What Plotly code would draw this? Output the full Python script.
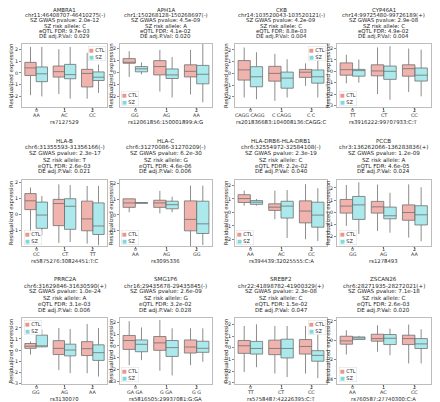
import plotly.graph_objects as go

GENES = ["AMBRA1", "APH1A", "CKB", "CYP46A1", "HLA-B", "HLA-C", "HLA-DRB6-HLA-DRB1", "PCCB",
         "PRRC2A", "SMG1P6", "SREBF2", "ZSCAN26"]
LOCI = ["chr11:46408707-46410275(-)", "chr1:150268128-150268697(-)", "chr14:103520043-103520121(-)",
        "chr14:99725480-99726189(+)", "chr6:31355593-31356166(-)", "chr6:31270086-31270209(-)",
        "chr6:32554972-32584108(-)", "chr3:136262066-136283836(+)", "chr6:31629846-31630590(+)",
        "chr16:29435678-29435845(-)", "chr22:41898782-41900329(+)", "chr6:28271935-28272021(+)"]
GWAS_P = ["2.0e-12", "4.5e-09", "4.2e-09", "2.9e-08", "2.3e-17", "6.2e-30", "2.3e-19", "1.2e-09",
          "1.0e-24", "2.6e-09", "2.3e-08", "7.1e-18"]
RISK = ["C", "A", "C", "C", "T", "G", "C", "A", "A", "G", "C", "C"]
EQTL_FDR = ["9.7e-03", "4.1e-02", "8.8e-03", "4.9e-02", "2.6e-03", "4.6e-06", "2.2e-02", "4.6e-05",
            "3.1e-03", "3.2e-02", "1.5e-02", "2.6e-03"]
DE_P = ["0.029", "0.020", "0.004", "0.004", "0.021", "0.006", "0.040", "0.024", "0.006", "0.028",
        "0.047", "0.020"]
SNPS = ["rs7127529", "rs12061856:150001899:A:G", "rs201836683:104008136:CAGG:C", "rs3916222:99707933:C:T",
        "rs5875276:30824451:T:C", "rs3095336", "rs394439:32025555:C:A", "rs1278493", "rs3130070",
        "rs5816505:29937081:G:GA", "rs5758487:42226395:C:T", "rs760587:27740300:C:A"]
GENOTYPES = [["AA", "AC", "CC"], ["GG", "AG", "AA"], ["CAGG CAGG", "C CAGG", "C C"], ["TT", "CT", "CC"],
             ["CC", "CT", "TT"], ["AA", "AG", "GG"], ["AA", "AC", "CC"], ["GG", "AG", "AA"],
             ["GG", "AG", "AA"], ["GA GA", "G GA", "G G"], ["TT", "CT", "CC"], ["AA", "AC", "CC"]]
DOSAGE = [0, 1, 2]
GROUPS = ["CTL", "SZ"]
Y_TITLE = "Residualized expression"

CTL_Q3 = [[0.89, 0.58, 0.3], [1.17, 1.0, 0.65], [1.09, 0.6, 0.34], [0.74, 0.57, 0.57],
          [1.32, 0.96, 0.85], [1.02, 0.93, 0.89], [1.32, 0.64, 0.86], [1.05, 0.89, 0.6],
          [0.59, 0.85, 0.76], [0.89, 0.8, 0.51], [0.62, 0.65, 0.7], [0.41, 0.62, 0.52]]
CTL_MED = [[0.42, 0.1, -0.05], [0.82, 0.5, 0.1], [0.3, 0.0, 0.1], [0.14, 0.03, 0.23],
           [0.87, 0.7, -0.26], [0.76, 0.76, -0.28], [1.03, 0.39, 0.1], [0.5, 0.44, -0.03],
           [0.35, 0.15, 0.12], [0.46, 0.26, -0.09], [0.17, -0.06, 0.11], [-0.07, 0.17, 0.17]]
CTL_Q1 = [[-0.22, -0.36, -1.2], [0.78, -0.2, -0.37], [-0.57, -0.66, -0.34], [-0.34, -0.4, -0.43],
          [0.32, -0.68, -1.0], [0.48, 0.48, -1.0], [0.74, 0.15, -0.78], [-0.08, -0.08, -0.67],
          [0.15, -0.41, -0.5], [-0.29, -0.37, -0.6], [-0.48, -0.59, -0.54], [-0.41, -0.1, -0.45]]
CTL_HI = [[2.2, 2.0, 1.7], [1.8, 1.9, 1.9], [2.2, 1.66, 0.86], [1.46, 2.1, 2.0],
          [1.7, 1.9, 1.8], [1.02, 1.52, 1.85], [1.62, 1.62, 2.1], [2.25, 2.28, 2.3],
          [0.76, 2.0, 2.35], [2.1, 2.2, 1.5], [1.86, 1.86, 1.86], [1.03, 1.55, 1.62]]
CTL_LO = [[-1.9, -1.8, -2.2], [-0.37, -1.6, -1.85], [-2.05, -2.34, -1.06], [-1.06, -2.0, -1.83],
          [-1.2, -1.75, -1.8], [0.17, 0.1, -1.96], [0.5, -0.5, -2.0], [-1.14, -1.55, -2.1],
          [-0.41, -1.82, -2.1], [-1.63, -2.1, -1.63], [-2.08, -2.2, -2.2], [-1.48, -1.2, -2.4]]

SZ_Q3 = [[0.5, 0.72, 0.08], [0.5, 0.3, 0.6], [0.57, 0.11, 0.29], [0.17, 0.46, 0.29],
         [0.79, 1.0, 0.74], [0.78, 0.87, 0.87], [0.88, 0.83, 0.76], [1.3, 0.42, 0.53],
         [1.35, 0.53, 0.47], [0.51, 0.46, 0.4], [0.54, 0.73, -0.25], [0.34, 0.59, 0.17]]
SZ_MED = [[-0.08, -0.15, -0.37], [0.31, -0.2, -0.15], [-0.29, -0.4, -0.29], [0.06, 0.0, -0.34],
          [-0.02, 0.53, -0.7], [0.76, 0.65, -0.56], [0.76, 0.47, -0.2], [0.6, -0.3, -0.22],
          [0.35, 0.0, -0.24], [0.14, -0.14, -0.2], [-0.06, -0.06, -0.65], [0.24, 0.2, -0.38]]
SZ_Q1 = [[-0.75, -0.5, -0.65], [0.06, -0.5, -0.95], [-1.14, -1.26, -0.83], [-0.43, -0.71, -0.86],
         [-0.85, -0.91, -1.23], [0.74, 0.39, -1.17], [0.6, -0.42, -1.1], [-0.6, -0.55, -1.06],
         [0.29, -0.53, -0.94], [-0.49, -0.89, -0.54], [-0.54, -0.87, -1.15], [0.07, -0.45, -0.86]]
SZ_HI = [[2.2, 2.2, 0.7], [0.85, 1.3, 2.4], [1.8, 1.2, 1.94], [1.03, 2.2, 1.9],
         [1.17, 1.85, 1.8], [0.78, 1.15, 1.85], [1.0, 1.67, 1.8], [2.47, 1.6, 2.05],
         [1.85, 1.9, 2.0], [1.57, 1.5, 1.5], [2.0, 1.86, 1.15], [0.45, 1.2, 1.13]]
SZ_LO = [[-2.0, -2.2, -1.7], [-0.15, -2.1, -2.5], [-2.2, -2.05, -2.05], [-1.0, -2.5, -2.2],
         [-1.28, -1.7, -1.9], [0.74, 0.17, -1.9], [0.51, -1.9, -2.13], [-1.8, -1.7, -2.4],
         [0.24, -2.1, -2.4], [-1.2, -2.5, -1.34], [-1.66, -2.5, -2.6], [0.07, -1.55, -2.4]]

# ---- layout / style (not data) ----
# The page body adds an 8 px margin, so the figure is drawn 8 px in from the window's
# top-left corner; all positions below are window pixels converted to figure coordinates.
WIN_W, WIN_H, OFF = 440, 402, 8
W, H = WIN_W - OFF, WIN_H - OFF
COL_L = [22, 120, 235, 337]
COL_R = [107, 212, 327, 430.5]
YTITLE_X = [11.6, 111.5, 226.5, 328.5]
ROW_T = [44, 179.5, 318]
ROW_B = [107, 246, 383.7]
TITLE_GAP = [7.3, 7.6, 7.6]
TITLE_STEP = [5.4, 6.2, 6.2]
TITLE_SIZE = [5.4, 5.6, 5.6]
XLAB_DY = [3.5, 8.6, 14.9]
YRANGE = [[-2.9, 2.45], [-2.9, 2.4], [-2.86, 2.5], [-3.14, 2.4],
          [-1.95, 2.2], [-1.96, 2.24], [-2.5, 2.45], [-2.8, 2.7],
          [-3.05, 2.9], [-3.2, 2.37], [-3.07, 2.54], [-4.5, 2.3]]
YDTICK = [1] * 11 + [2]
LEGPOS = ["ur", "ll", "ur", "ll", "ll", "ll", "ll", "ll", "ul", "ll", "ur", "ll"]
FILL = {"CTL": "rgba(236,150,142,0.72)", "SZ": "rgba(140,224,228,0.72)"}
SWATCH = {"CTL": "#E8968E", "SZ": "#7FD9DE"}
EDGE = "#707070"
FONT = "DejaVu Sans"
TXT = "#262626"


def px_x(p):
    return (p - OFF) / W


def px_y(p):
    return 1 - (p - OFF) / H


fig = go.Figure()
annotations = []
layout = {}
stats = {"CTL": (CTL_Q1, CTL_MED, CTL_Q3, CTL_LO, CTL_HI),
         "SZ": (SZ_Q1, SZ_MED, SZ_Q3, SZ_LO, SZ_HI)}

for i in range(12):
    r, c = divmod(i, 4)
    n = "" if i == 0 else str(i + 1)
    xd = [px_x(COL_L[c]), px_x(COL_R[c])]
    yd = [px_y(ROW_B[r]), px_y(ROW_T[r])]
    for gi, g in enumerate(GROUPS):
        q1, med, q3, lo, hi = stats[g]
        off = -0.2 if gi == 0 else 0.2
        fig.add_trace(go.Box(
            x=[d + off for d in DOSAGE], q1=q1[i], median=med[i], q3=q3[i],
            lowerfence=lo[i], upperfence=hi[i], width=0.4, whiskerwidth=0,
            fillcolor=FILL[g], line=dict(color=EDGE, width=0.8), boxpoints=False,
            name=g, showlegend=False, xaxis="x" + n, yaxis="y" + n, hoverinfo="skip"))
    layout["xaxis" + n] = dict(
        domain=xd, anchor="y" + n, range=[-0.5, 2.5], tickmode="array", tickvals=DOSAGE,
        showticklabels=False, automargin=False, ticks="outside", ticklen=2,
        tickcolor="#888", tickwidth=0.6, showline=True, linecolor="#bdbdbd", linewidth=0.8,
        mirror=True, showgrid=False, zeroline=False)
    layout["yaxis" + n] = dict(
        domain=yd, anchor="x" + n, range=YRANGE[i], dtick=YDTICK[i], tick0=0, automargin=False,
        tickfont=dict(size=4.8, family=FONT, color=TXT), ticks="outside", ticklen=2,
        tickcolor="#888", tickwidth=0.6, showline=True, linecolor="#bdbdbd", linewidth=0.8,
        mirror=True, showgrid=False, zeroline=False)
    # x tick labels (dosage + genotype) and x title
    for d, gt in zip(DOSAGE, GENOTYPES[i]):
        for txt, dy in ((str(d), XLAB_DY[0]), (gt, XLAB_DY[1])):
            annotations.append(dict(text=txt, x=d, xref="x" + n, y=px_y(ROW_B[r] + dy),
                                    yref="paper", xanchor="center", yanchor="middle",
                                    showarrow=False, font=dict(size=4.8, family=FONT, color=TXT)))
    annotations.append(dict(text=SNPS[i], x=(xd[0] + xd[1]) / 2, xref="paper",
                            y=px_y(ROW_B[r] + XLAB_DY[2]), yref="paper", xanchor="center",
                            yanchor="middle", showarrow=False,
                            font=dict(size=5.3, family=FONT, color=TXT)))
    # y title
    annotations.append(dict(text=Y_TITLE, x=px_x(YTITLE_X[c]), xref="paper",
                            y=(yd[0] + yd[1]) / 2, yref="paper", textangle=-90,
                            xanchor="center", yanchor="middle", showarrow=False,
                            font=dict(size=5.4, family=FONT, color=TXT)))
    # title lines
    lines = [GENES[i], LOCI[i], f"SZ GWAS pvalue: {GWAS_P[i]}", f"SZ risk allele: {RISK[i]}",
             f"eQTL FDR: {EQTL_FDR[i]}", f"DE adj.P.Val: {DE_P[i]}"]
    xc = (xd[0] + xd[1]) / 2
    for k, t in enumerate(lines):
        ypx = ROW_T[r] - TITLE_GAP[r] - (5 - k) * TITLE_STEP[r]
        annotations.append(dict(text=t, x=xc, y=px_y(ypx), xref="paper", yref="paper",
                                xanchor="center", yanchor="middle", showarrow=False,
                                font=dict(size=TITLE_SIZE[r], family=FONT, color=TXT)))
    # legend
    leg = (f'<span style="color:{SWATCH["CTL"]}">■</span> CTL<br>'
           f'<span style="color:{SWATCH["SZ"]}">■</span> SZ')
    pos = LEGPOS[i]
    dx, dy = 1.5 / W, 1.5 / H
    if pos == "ur":
        lx, ly, xa, ya = xd[1] - dx, yd[1] - dy, "right", "top"
    elif pos == "ul":
        lx, ly, xa, ya = xd[0] + dx, yd[1] - dy, "left", "top"
    else:
        lx, ly, xa, ya = xd[0] + dx, yd[0] + dy, "left", "bottom"
    annotations.append(dict(text=leg, x=lx, y=ly, xref="paper", yref="paper", xanchor=xa,
                            yanchor=ya, align="left", showarrow=False,
                            font=dict(size=5, family=FONT, color=TXT),
                            bordercolor="#dcdcdc", borderwidth=0.5, borderpad=0.5,
                            bgcolor="rgba(255,255,255,0.8)"))

fig.update_layout(width=W, height=H, margin=dict(l=0, r=0, t=0, b=0),
                  paper_bgcolor="white", plot_bgcolor="white",
                  annotations=annotations, showlegend=False, **layout)
fig.write_html("out.html")
